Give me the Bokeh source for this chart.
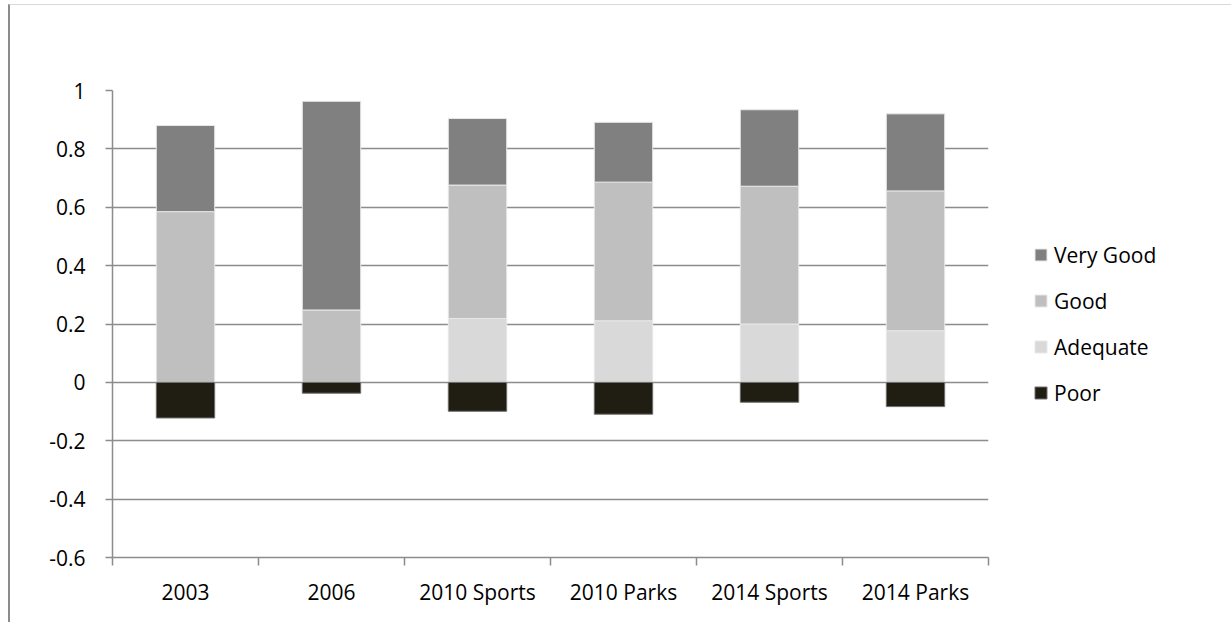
from bokeh.plotting import figure
from bokeh.models import (ColumnDataSource, FixedTicker, Legend, LegendItem,
                          Range1d)
from bokeh.embed import file_html
from bokeh.resources import INLINE

# Survey ratings by survey wave (share of respondents; "Poor" drawn below zero)
categories = ["2003", "2006", "2010 Sports", "2010 Parks", "2014 Sports", "2014 Parks"]
adequate = [0.0, 0.0, 0.219, 0.211, 0.200, 0.177]
good = [0.585, 0.248, 0.457, 0.475, 0.472, 0.479]
very_good = [0.295, 0.715, 0.228, 0.205, 0.262, 0.264]
poor = [-0.122, -0.037, -0.099, -0.109, -0.068, -0.083]
y_ticks = [-0.6, -0.4, -0.2, 0, 0.2, 0.4, 0.6, 0.8, 1]

FONT = "Open Sans"
FONT_SIZE = "21px"
TEXT = "#000000"
GRID = "#8c8c8c"

x = [i + 0.5 for i in range(len(categories))]
source = ColumnDataSource(dict(
    x=x, cat=categories, adequate=adequate, good=good,
    very_good=very_good, poor=poor,
))

p = figure(frame_width=876, frame_height=467,
           output_backend="svg", toolbar_location=None,
           x_range=Range1d(0, len(categories)), y_range=Range1d(-0.6, 1.0),
           min_border_left=102, min_border_right=231,
           min_border_top=85, min_border_bottom=65,
           outline_line_color=None, background_fill_color="white",
           border_fill_color="white")
p.margin = (4, 0, 0, 8)
p.styles = {"border-top": "1px solid #d9d9d9", "border-left": "2px solid #8c8c8c"}

stack = p.vbar_stack(["adequate", "good", "very_good"], x="x", width=0.4,
                     source=source,
                     color=["#d9d9d9", "#bfbfbf", "#808080"],
                     line_color="#e8e8e8", line_width=1)
poor_r = p.vbar(x="x", top=0, bottom="poor", width=0.4, source=source,
                fill_color="#201e12", line_color="#6e6e6e", line_width=1)

# gridlines
p.xgrid.visible = False
p.ygrid.ticker = FixedTicker(ticks=y_ticks)
p.ygrid.grid_line_color = GRID
p.ygrid.grid_line_width = 1.5

# y axis
p.yaxis.ticker = FixedTicker(ticks=y_ticks)
p.yaxis.major_label_overrides = {t: f"{t:g}" for t in y_ticks}
p.yaxis.axis_line_color = GRID
p.yaxis.axis_line_width = 1.5
p.yaxis.major_tick_line_color = GRID
p.yaxis.major_tick_line_width = 1.5
p.yaxis.major_tick_out = 7
p.yaxis.major_tick_in = 0
p.yaxis.minor_tick_line_color = None
p.yaxis.major_label_standoff = 20
p.yaxis.major_label_text_font = FONT
p.yaxis.major_label_text_font_size = FONT_SIZE
p.yaxis.major_label_text_color = TEXT

# x axis: labels at bar centres, tick marks at category boundaries
p.xaxis.ticker = FixedTicker(ticks=x, minor_ticks=list(range(len(categories) + 1)))
p.xaxis.major_label_overrides = {xi: c for xi, c in zip(x, categories)}
p.xaxis.axis_line_color = GRID
p.xaxis.axis_line_width = 1.5
p.xaxis.major_tick_line_color = None
p.xaxis.minor_tick_line_color = GRID
p.xaxis.minor_tick_line_width = 1.5
p.xaxis.minor_tick_out = 8
p.xaxis.minor_tick_in = 0
p.xaxis.major_label_standoff = 12
p.xaxis.major_label_text_font = FONT
p.xaxis.major_label_text_font_size = FONT_SIZE
p.xaxis.major_label_text_color = TEXT

legend = Legend(items=[
    LegendItem(label="Very Good", renderers=[stack[2]]),
    LegendItem(label="Good", renderers=[stack[1]]),
    LegendItem(label="Adequate", renderers=[stack[0]]),
    LegendItem(label="Poor", renderers=[poor_r]),
], location="center_left")
legend.glyph_width = 15
legend.glyph_height = 15
legend.label_height = 20
legend.spacing = 18
legend.padding = 0
legend.margin = 45
legend.label_standoff = 6
legend.label_text_font = FONT
legend.label_text_font_size = FONT_SIZE
legend.label_text_color = TEXT
legend.border_line_color = None
legend.background_fill_alpha = 0
p.add_layout(legend, "right")

open("out.html", "w").write(file_html(p, INLINE))
